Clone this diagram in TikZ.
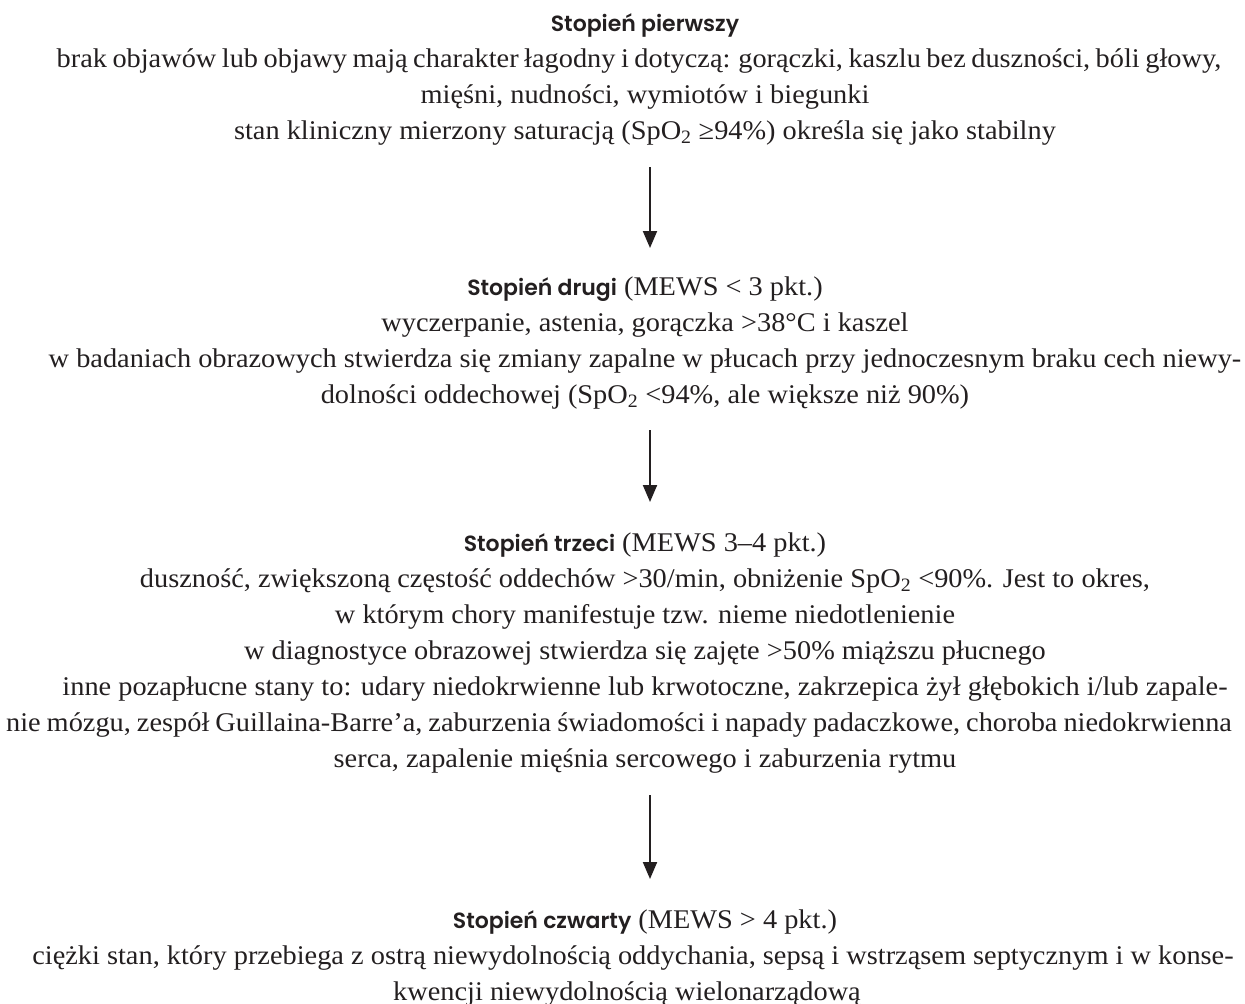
\documentclass[tikz,border=0pt]{standalone}
\usepackage{fontspec}
\setmainfont{Liberation Serif}[FakeStretch=1.05]
\newfontfamily\headfont{Poppins SemiBold}
\usetikzlibrary{arrows.meta}
\definecolor{ink}{HTML}{231F20}
\tikzset{
  block/.style={align=center, inner sep=0pt, text=ink, anchor=north, font=\fontsize{27}{36}\selectfont},
  flow/.style={draw=ink, line width=2pt, -{Triangle[width=14pt,length=17pt]}}
}
\newcommand{\hd}[1]{\rule{0pt}{30pt}{\headfont\fontsize{22}{36}\selectfont #1}}
\newcommand{\lastln}{\rule[-10pt]{0pt}{10pt}}
\newcommand{\sptwo}{SpO\textsubscript{2}}
\begin{document}
\begin{tikzpicture}[x=1pt,y=1pt]
\useasboundingbox (0,0) rectangle (1245,-1004);
\node[block] (b1) at (645,-1) {%
\hd{Stopień pierwszy}\\
{\spaceskip=5.5pt \hspace*{-12pt}brak objawów lub objawy mają charakter łagodny i dotyczą: gorączki, kaszlu bez duszności, bóli głowy,}\\
mięśni, nudności, wymiotów i biegunki\\
stan kliniczny mierzony saturacją (\sptwo\ ≥94\%) określa się jako stabilny\lastln};
\node[block] (b2) at (645,-265) {%
\hd{Stopień drugi} (MEWS < 3 pkt.)\\
wyczerpanie, astenia, gorączka >38°C i kaszel\\
w badaniach obrazowych stwierdza się zmiany zapalne w płucach przy jednoczesnym braku cech niewy-\\
dolności oddechowej (\sptwo\ <94\%, ale większe niż 90\%)\lastln};
\node[block] (b3) at (645,-521) {%
\hd{Stopień trzeci} (MEWS 3–4 pkt.)\\
duszność, zwiększoną częstość oddechów >30/min, obniżenie \sptwo\ <90\%. Jest to okres,\\
w którym chory manifestuje tzw. nieme niedotlenienie\\
w diagnostyce obrazowej stwierdza się zajęte >50\% miąższu płucnego\\
inne pozapłucne stany to: udary niedokrwienne lub krwotoczne, zakrzepica żył głębokich i/lub zapale-\\
\hspace*{-52pt}{\spaceskip=6pt nie mózgu, zespół Guillaina-Barre’a, zaburzenia świadomości i napady padaczkowe, choroba niedokrwienna}\\
serca, zapalenie mięśnia sercowego i zaburzenia rytmu\lastln};
\node[block] (b4) at (645,-898) {%
\hd{Stopień czwarty} (MEWS > 4 pkt.)\\
\hspace*{-24pt}ciężki stan, który przebiega z ostrą niewydolnością oddychania, sepsą i wstrząsem septycznym i w konse-\\
\hspace*{-36pt}kwencji niewydolnością wielonarządową};
\draw[flow, shorten <=18pt, shorten >=17pt] ([xshift=5pt]b1.south) -- ([xshift=5pt]b1.south |- b2.north);
\draw[flow, shorten <=17pt, shorten >=19pt] ([xshift=5pt]b2.south) -- ([xshift=5pt]b2.south |- b3.north);
\draw[flow, shorten <=18pt, shorten >=19pt] ([xshift=5pt]b3.south) -- ([xshift=5pt]b3.south |- b4.north);
\end{tikzpicture}
\end{document}
